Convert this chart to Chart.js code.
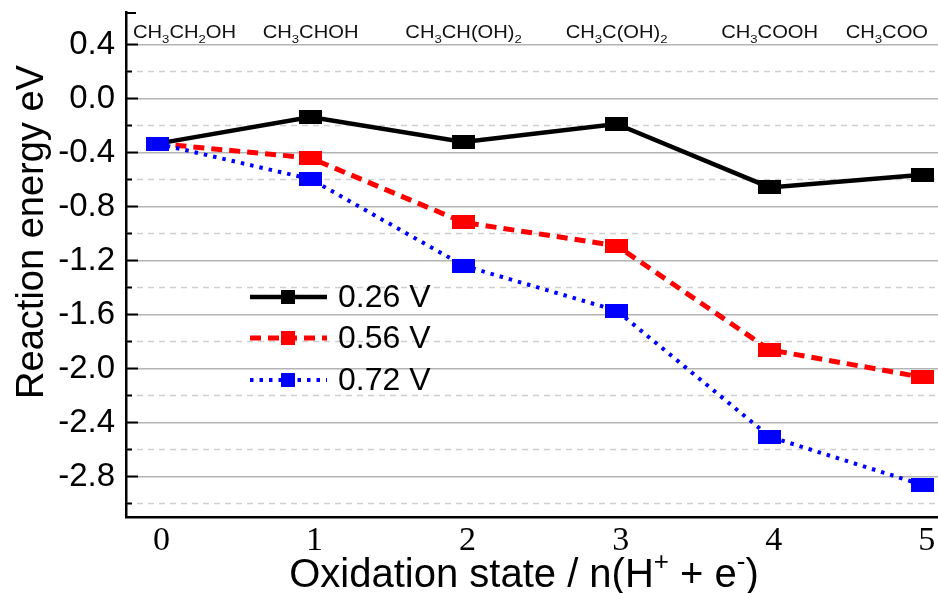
<!DOCTYPE html>
<html>
<head>
<meta charset="utf-8">
<script src="https://cdn.jsdelivr.net/npm/chart.js@4.4.1/dist/chart.umd.min.js"></script>
<style>
  body { margin: 0; background: #fff; }
  canvas { display: block; }
</style>
</head>
<body>
<canvas id="energyChart" width="938" height="593"></canvas>
<script>
// values
const oxidationStates = [0, 1, 2, 3, 4, 5];
const intermediates = ['CH_3CH_2OH', 'CH_3CHOH', 'CH_3CH(OH)_2', 'CH_3C(OH)_2', 'CH_3COOH', 'CH_3COO'];
const potentials = ['0.26 V', '0.56 V', '0.72 V'];
const energy026 = [-0.335, -0.137, -0.322, -0.189, -0.659, -0.565];
const energy056 = [-0.335, -0.441, -0.918, -1.091, -1.862, -2.065];
const energy072 = [-0.335, -0.597, -1.239, -1.571, -2.505, -2.863];
const yMajorTicks = [0.4, 0.0, -0.4, -0.8, -1.2, -1.6, -2.0, -2.4, -2.8];
const yTickLabels = ['0.4', '0.0', '-0.4', '-0.8', '-1.2', '-1.6', '-2.0', '-2.4', '-2.8'];
const yMinorTicks = [0.2, -0.2, -0.6, -1.0, -1.4, -1.8, -2.2, -2.6, -3.0];
const xTitle = 'Oxidation state / n(H^+ + e^-)';
const yTitle = 'Reaction energy eV';

const SANS = '"Liberation Sans", Arial, sans-serif';
const SERIF = '"Liberation Serif", "Times New Roman", serif';

function marker(color, w, h) {
  const c = document.createElement('canvas');
  c.width = w; c.height = h;
  const g = c.getContext('2d');
  g.fillStyle = color;
  g.fillRect(0, 0, w, h);
  return c;
}

// "_x" -> subscript, "^x" -> superscript
function parseRich(str) {
  const parts = [];
  for (let i = 0; i < str.length; i++) {
    const c = str[i];
    if ((c === '_' || c === '^') && i + 1 < str.length) {
      parts.push({ t: str[i + 1], k: c });
      i++;
    } else {
      const last = parts[parts.length - 1];
      if (last && last.k === '') last.t += c;
      else parts.push({ t: c, k: '' });
    }
  }
  return parts;
}

function measureRich(ctx, str, size, family) {
  const parts = parseRich(str);
  let w = 0;
  parts.forEach(p => {
    ctx.font = (p.k ? size * 0.65 : size) + 'px ' + family;
    p.w = ctx.measureText(p.t).width;
    w += p.w;
  });
  return { parts, w };
}

function drawRich(ctx, str, x, y, size, family, sx) {
  const m = measureRich(ctx, str, size, family);
  ctx.save();
  ctx.translate(x, y);
  ctx.scale(sx, 1);
  ctx.textAlign = 'left';
  ctx.textBaseline = 'alphabetic';
  let cx = -m.w / 2;
  m.parts.forEach(p => {
    ctx.font = (p.k ? size * 0.65 : size) + 'px ' + family;
    const dy = p.k === '_' ? size * 0.3 : p.k === '^' ? -size * 0.42 : 0;
    ctx.fillText(p.t, cx, dy);
    cx += p.w;
  });
  ctx.restore();
  return m.w * sx;
}

const decorPlugin = {
  id: 'decor',
  beforeDatasetsDraw(chart) {
    const { ctx, chartArea: a, scales: { y } } = chart;
    ctx.save();
    ctx.strokeStyle = '#cfcfcf';
    ctx.lineWidth = 1.5;
    ctx.setLineDash([6, 5]);
    yMinorTicks.forEach(v => {
      const py = Math.round(y.getPixelForValue(v)) + 0.5;
      ctx.beginPath();
      ctx.moveTo(a.left, py);
      ctx.lineTo(a.right, py);
      ctx.stroke();
    });
    ctx.setLineDash([]);
    ctx.strokeStyle = '#000';
    ctx.lineWidth = 2;
    yMajorTicks.forEach(v => {
      const py = Math.round(y.getPixelForValue(v)) + 0.5;
      ctx.beginPath();
      ctx.moveTo(a.left, py);
      ctx.lineTo(a.left + 12, py);
      ctx.stroke();
    });
    yMinorTicks.forEach(v => {
      const py = Math.round(y.getPixelForValue(v)) + 0.5;
      ctx.beginPath();
      ctx.moveTo(a.left, py);
      ctx.lineTo(a.left + 6, py);
      ctx.stroke();
    });
    ctx.beginPath();
    ctx.moveTo(a.left, a.top + 1);
    ctx.lineTo(a.left + 10, a.top + 1);
    ctx.stroke();
    ctx.restore();
  },
  afterDatasetsDraw(chart) {
    const { ctx, chartArea: a, scales: { x } } = chart;
    ctx.save();
    ctx.fillStyle = '#111';

    // formulas above each oxidation state
    intermediates.forEach((lab, i) => {
      const w = measureRich(ctx, lab, 18, SANS).w * 1.12;
      let cx = x.getPixelForValue(oxidationStates[i]);
      cx = Math.max(cx, a.left + 7 + w / 2);
      cx = Math.min(cx, a.right - 10 - w / 2);
      drawRich(ctx, lab, cx, 38, 18, SANS, 1.12);
    });

    // legend
    const rows = [297, 338, 380];
    chart.data.datasets.forEach((ds, i) => {
      const ry = rows[i];
      ctx.strokeStyle = ds.borderColor;
      ctx.lineWidth = ds.borderWidth;
      ctx.setLineDash(ds.borderDash || []);
      ctx.beginPath();
      ctx.moveTo(250, ry);
      ctx.lineTo(327, ry);
      ctx.stroke();
      ctx.setLineDash([]);
      ctx.fillStyle = ds.borderColor;
      ctx.fillRect(281, ry - 7, 14, 14);
      ctx.fillStyle = '#000';
      ctx.font = '32px ' + SANS;
      ctx.textAlign = 'left';
      ctx.textBaseline = 'middle';
      ctx.fillText(ds.label, 338, ry + 1);
    });

    // axis titles
    ctx.fillStyle = '#000';
    ctx.save();
    ctx.translate(43, 232);
    ctx.rotate(-Math.PI / 2);
    ctx.font = '38px ' + SANS;
    ctx.textAlign = 'center';
    ctx.textBaseline = 'alphabetic';
    ctx.fillText(yTitle, 0, 0);
    ctx.restore();
    drawRich(ctx, xTitle, 524, 587, 40, SANS, 1);
    ctx.restore();
  }
};

new Chart(document.getElementById('energyChart'), {
  type: 'line',
  data: {
    datasets: [
      {
        label: potentials[0],
        data: oxidationStates.map((s, i) => ({ x: s, y: energy026[i] })),
        borderColor: '#000000',
        borderWidth: 4.5,
        borderDash: [],
        pointStyle: marker('#000000', 23, 14),
        order: 3
      },
      {
        label: potentials[1],
        data: oxidationStates.map((s, i) => ({ x: s, y: energy056[i] })),
        borderColor: '#ff0000',
        borderWidth: 5,
        borderDash: [11, 7],
        pointStyle: marker('#ff0000', 23, 14),
        order: 2
      },
      {
        label: potentials[2],
        data: oxidationStates.map((s, i) => ({ x: s, y: energy072[i] })),
        borderColor: '#0000ff',
        borderWidth: 4,
        borderDash: [3.5, 6],
        pointStyle: marker('#0000ff', 23, 14),
        order: 1
      }
    ]
  },
  options: {
    responsive: false,
    animation: false,
    clip: false,
    layout: { autoPadding: false, padding: { top: 12, right: 0, left: 0, bottom: 0 } },
    elements: { line: { tension: 0, fill: false } },
    plugins: {
      legend: { display: false },
      tooltip: { enabled: false }
    },
    scales: {
      x: {
        type: 'linear',
        min: -0.206,
        max: 5.1,
        afterFit: s => { s.height = 76; s.paddingLeft = 0; s.paddingRight = 0; },
        afterBuildTicks: s => { s.ticks = oxidationStates.map(v => ({ value: v })); },
        grid: { display: false, drawTicks: false },
        border: { display: true, color: '#000', width: 2.5 },
        ticks: {
          color: '#000',
          padding: 4,
          labelOffset: 4,
          font: { family: SERIF, size: 34 },
          callback: v => String(v)
        }
      },
      y: {
        type: 'linear',
        min: -3.1,
        max: 0.64,
        afterFit: s => { s.width = 126; s.paddingTop = 0; s.paddingBottom = 0; },
        afterBuildTicks: s => { s.ticks = yMajorTicks.map(v => ({ value: v })); },
        grid: { color: '#b4b4b4', lineWidth: 1.5, drawTicks: false },
        border: { display: true, color: '#000', width: 2.5 },
        ticks: {
          color: '#000',
          padding: 11,
          font: { family: SANS, size: 33 },
          callback: v => yTickLabels[yMajorTicks.indexOf(v)]
        }
      }
    }
  },
  plugins: [decorPlugin]
});
</script>
</body>
</html>
